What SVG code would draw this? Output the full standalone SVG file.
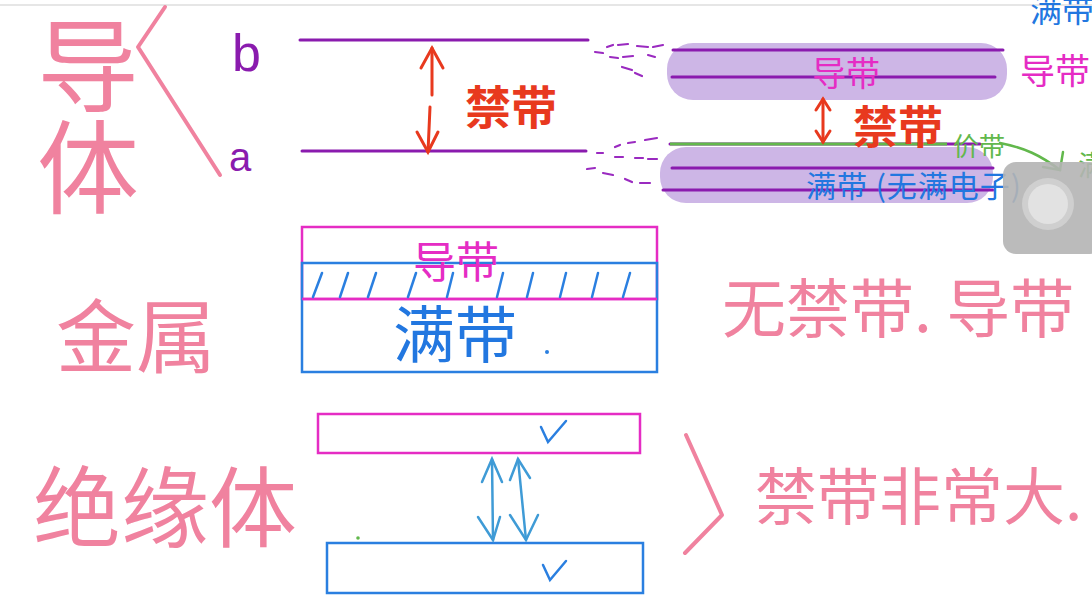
<svg xmlns="http://www.w3.org/2000/svg" width="1092" height="614" viewBox="0 0 1092 614">
<style>
.cjk{font-family:"Noto Sans CJK SC","Noto Sans",sans-serif}
.pink{fill:#f0829f}
.mag{fill:#e52cc4}
.red{fill:#e8391e}
.blue{fill:#2277e0}
.green{fill:#62b84c}
.pl{stroke:#8a1bae;stroke-width:3;stroke-linecap:round;fill:none}
.dash{stroke:#9a2ac0;stroke-width:2.2;stroke-linecap:round;fill:none}
.pk{stroke:#f0829f;stroke-width:4;stroke-linecap:round;stroke-linejoin:round;fill:none}
.bl{stroke:#2a7fe0;stroke-width:2.5;fill:none}
.mg{stroke:#e52cc4;stroke-width:2.5;fill:none}
.ar{stroke:#3f9bd6;stroke-width:2.5;stroke-linecap:round;fill:none}
.rd{stroke:#e8391e;stroke-width:3;stroke-linecap:round;fill:none}
</style>
<rect width="1092" height="614" fill="#ffffff"/>
<line x1="0" y1="5" x2="1092" y2="5" stroke="#e6e6e6" stroke-width="2"/>

<!-- left labels -->
<g id="label-daoti">
<text class="cjk pink" x="88" y="14" font-size="102" writing-mode="vertical-rl" style="writing-mode:vertical-rl">导体</text>
<polyline class="pk" points="165,7 138,47 220,175"/>
</g>
<text x="232" y="71" font-family="Liberation Sans,sans-serif" font-size="52" style="fill:#8a1bae">b</text>
<text x="229" y="171" font-family="Liberation Sans,sans-serif" font-size="40" style="fill:#8a1bae">a</text>

<!-- top middle levels -->
<g id="levels-ab">
<line class="pl" x1="300" y1="40" x2="588" y2="40"/>
<line class="pl" x1="302" y1="151" x2="586" y2="151"/>
<polyline class="rd" points="432,95 432,48"/>
<polyline class="rd" points="421,68 432,48 443,68"/>
<polyline class="rd" points="430,107 428,152"/>
<polyline class="rd" points="417,132 428,152 438,132"/>
<text class="cjk red" x="465" y="124" font-size="46" font-weight="700">禁带</text>
</g>

<!-- fan dashes and arrow -->
<g id="connectors">
<path class="dash" d="M595,52 L603,53 M607,47 L613,45 M618,45 L628,44 M637,46 L648,47 M653,47 L663,45 M610,57 L618,58 M623,57 L633,56 M648,55 L655,57 M622,67 L632,70 M635,73 L642,76"/>
<path class="dash" d="M615,147 L620,145 M628,143 L635,142 M645,140 L657,138 M597,153 L603,153 M615,157 L623,157 M635,158 L643,158 M648,159 L657,159 M587,169 L595,168 M603,173 L613,175 M625,179 L632,182 M640,183 L650,183"/>
<path d="M1000,143 C1025,148 1040,155 1060,170" stroke="#62b84c" stroke-width="2.5" fill="none" stroke-linecap="round"/>
<polyline points="1043,167 1060,170 1063,152" stroke="#62b84c" stroke-width="2.5" fill="none" stroke-linecap="round"/>
</g>

<!-- right band diagram -->
<g id="bands-right">
<rect x="667" y="43" width="340" height="57" rx="26" fill="#cdb6e6"/>
<rect x="660" y="147" width="333" height="56" rx="26" fill="#cdb6e6"/>
<line class="pl" x1="673" y1="50" x2="1003" y2="50"/>
<line class="pl" x1="672" y1="77" x2="995" y2="77"/>
<line class="pl" x1="670" y1="144" x2="980" y2="144"/>
<line x1="670" y1="144" x2="947" y2="144" stroke="#62b84c" stroke-width="3"/>
<line class="pl" x1="672" y1="168" x2="993" y2="168"/>
<line class="pl" x1="663" y1="190" x2="993" y2="190"/>
<text class="cjk mag" x="812" y="86" font-size="34">导带</text>
<polyline class="rd" points="823,99 823,142"/>
<polyline class="rd" points="816,110 823,99 830,110"/>
<polyline class="rd" points="816,131 823,142 830,131"/>
<text class="cjk red" x="853" y="144" font-size="45" font-weight="700">禁带</text>
<text class="cjk green" x="953" y="156" font-size="26">价带</text>
<text class="cjk blue" x="806" y="197" font-size="30" textLength="215">满带 (无满电子)</text>
<text class="cjk mag" x="1020" y="84" font-size="35">导带</text>
<text class="cjk blue" x="1030" y="22" font-size="32">满带</text>
<text class="cjk green" x="1078" y="176" font-size="28">满</text>
</g>

<!-- metal -->
<g id="label-jinshu"><text class="cjk pink" x="56" y="366" font-size="80">金属</text></g>
<g id="metal-box">
<rect class="mg" x="302" y="227" width="355" height="72"/>
<rect class="bl" x="302" y="263" width="355" height="109"/>
<line class="mg" x1="302" y1="299" x2="657" y2="299"/>
<path d="M313,297 L322,273 M340,297 L348,273 M368,297 L376,273 M408,297 L416,273 M447,297 L453,273 M497,297 L503,273 M527,297 L533,273 M560,297 L566,273 M592,297 L598,273 M623,297 L630,273" stroke="#2a7fe0" stroke-width="2.5" stroke-linecap="round" fill="none"/>
<text class="cjk mag" x="413" y="278" font-size="43">导带</text>
<text class="cjk blue" x="393" y="358" font-size="62">满带</text>
<circle cx="547" cy="352" r="2" fill="#2a7fe0"/>
</g>
<g id="label-wujindai"><text class="cjk pink" x="722" y="332" font-size="64">无禁带. 导带</text></g>

<!-- insulator -->
<g id="label-jueyuanti"><text class="cjk pink" x="33" y="540" font-size="88">绝缘体</text></g>
<g id="insulator-box">
<rect class="mg" x="318" y="414" width="322" height="39"/>
<rect class="bl" x="327" y="543" width="316" height="50"/>
<polyline points="541,427 548,442 566,421" stroke="#2a7fe0" stroke-width="2.5" fill="none" stroke-linecap="round"/>
<polyline points="543,565 550,580 566,561" stroke="#2a7fe0" stroke-width="2.5" fill="none" stroke-linecap="round"/>
<circle cx="358" cy="538" r="1.8" fill="#62b84c"/>
<line class="ar" x1="492" y1="459" x2="493" y2="540"/>
<polyline class="ar" points="482,482 492,459 502,482"/>
<polyline class="ar" points="478,517 493,540 500,517"/>
<line class="ar" x1="518" y1="459" x2="526" y2="540"/>
<polyline class="ar" points="510,480 518,459 530,478"/>
<polyline class="ar" points="510,515 526,540 538,515"/>
</g>
<g id="label-jindai-big">
<polyline class="pk" points="686,435 722,515 685,553"/>
<text class="cjk pink" x="755" y="520" font-size="62">禁带非常大.</text>
</g>

<!-- overlay button -->
<g id="float-button">
<rect x="1003" y="162" width="100" height="92" rx="13" fill="#b4b4b4" fill-opacity="0.9"/>
<circle cx="1048" cy="204" r="26" fill="#cfcfcf"/>
<circle cx="1048" cy="204" r="20" fill="#e2e2e2"/>
</g>
</svg>
